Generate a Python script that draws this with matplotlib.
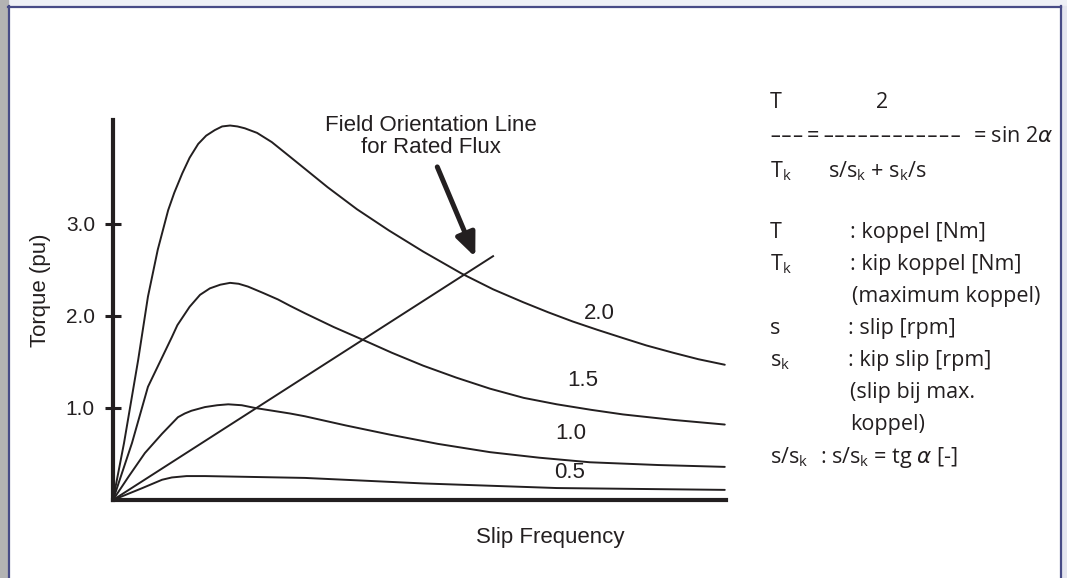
import numpy as np
import matplotlib
matplotlib.use("Agg")
import matplotlib.pyplot as plt
from matplotlib.patches import Rectangle
from matplotlib.lines import Line2D

# torque curves (pu) vs slip frequency, one per flux level
slip_20 = [0, 0.18, 0.41, 0.57, 0.73, 0.90, 1.00, 1.13, 1.25, 1.39, 1.52, 1.66, 1.78, 1.91, 2.03, 2.15, 2.35,
           2.59, 2.87, 3.13, 3.50, 3.98, 4.50, 5.06, 5.69, 6.20, 6.69, 7.10, 7.50, 7.90, 8.32, 8.70, 9.14,
           9.55, 9.98]
torque_20 = [0, 0.62, 1.52, 2.21, 2.72, 3.15, 3.34, 3.55, 3.72, 3.87, 3.96, 4.02, 4.06, 4.07, 4.06, 4.04, 3.99,
             3.89, 3.74, 3.60, 3.40, 3.16, 2.93, 2.70, 2.46, 2.29, 2.15, 2.04, 1.94, 1.85, 1.76, 1.68, 1.60,
             1.53, 1.47]

slip_15 = [0, 0.31, 0.57, 0.96, 1.05, 1.25, 1.42, 1.58, 1.75, 1.91, 2.05, 2.20, 2.45, 2.69, 2.89, 3.13, 3.60,
           4.08, 4.55, 5.06, 5.60, 6.15, 6.70, 7.24, 7.80, 8.32, 9.15, 9.98]
torque_15 = [0, 0.62, 1.23, 1.77, 1.90, 2.10, 2.23, 2.30, 2.34, 2.36, 2.35, 2.32, 2.25, 2.18, 2.11, 2.03, 1.88,
             1.74, 1.60, 1.46, 1.33, 1.21, 1.11, 1.04, 0.98, 0.93, 0.87, 0.82]

slip_10 = [0, 0.25, 0.52, 0.80, 1.06, 1.17, 1.28, 1.50, 1.70, 1.88, 2.10, 2.32, 2.89, 3.13, 3.80, 4.52, 5.30,
           6.15, 6.95, 7.78, 8.90, 9.98]
torque_10 = [0, 0.25, 0.51, 0.72, 0.90, 0.94, 0.97, 1.01, 1.03, 1.04, 1.03, 1.00, 0.94, 0.91, 0.81, 0.71, 0.61,
             0.52, 0.46, 0.41, 0.38, 0.36]

slip_05 = [0, 0.48, 0.80, 0.96, 1.20, 1.50, 2.32, 3.13, 4.10, 5.06, 6.15, 7.24, 8.60, 9.98]
torque_05 = [0, 0.13, 0.22, 0.245, 0.26, 0.26, 0.25, 0.24, 0.21, 0.18, 0.155, 0.13, 0.12, 0.11]

curve_names = ["2.0", "1.5", "1.0", "0.5"]
label_x = [7.93, 7.67, 7.47, 7.44]
label_y = [2.03, 1.30, 0.72, 0.30]

field_slip = [0, 6.20]
field_torque = [0, 2.65]

yticks = [1.0, 2.0, 3.0]
ytick_labels = ["1.0", "2.0", "3.0"]

W, H = 1067, 578
ink = "#231f20"


def fx(x):
    return x / W


def fy(y):
    return 1 - y / H


fig = plt.figure(figsize=(W / 100, H / 100), dpi=100, facecolor="#eef0f6")

# frame around the picture
fig.add_artist(Rectangle((0, 0), fx(8), 1, transform=fig.transFigure, color="#b3b3b3", zorder=-3))
fig.add_artist(Rectangle((fx(1061), 0), 1 - fx(1061), fy(6), transform=fig.transFigure,
                         color="#e4e5ef", zorder=-3))
fig.add_artist(Rectangle((fx(9), 0), fx(1060) - fx(9), fy(7), transform=fig.transFigure,
                         color="white", zorder=-2))
border = dict(transform=fig.transFigure, color="#474b86", lw=1.6, zorder=-1)
fig.add_artist(Line2D([fx(8.5), fx(8.5)], [0, fy(6)], **border))
fig.add_artist(Line2D([fx(8), fx(1061)], [fy(6.5), fy(6.5)], **border))
fig.add_artist(Line2D([fx(1060.5), fx(1060.5)], [0, fy(6)], **border))

ax = fig.add_axes([fx(113), fy(500), fx(726) - fx(113), fy(120) - fy(500)])
ax.set_facecolor("none")

for s, t in [(slip_20, torque_20), (slip_15, torque_15), (slip_10, torque_10), (slip_05, torque_05)]:
    ax.plot(s, t, color=ink, lw=1.4, solid_capstyle="round", solid_joinstyle="round")
ax.plot(field_slip, field_torque, color=ink, lw=1.4)

for name, x, y in zip(curve_names, label_x, label_y):
    ax.text(x, y, name, ha="center", va="center", fontsize=16, color=ink, family="Liberation Sans")

ax.text(5.19, 3.95, "Field Orientation Line\nfor Rated Flux", ha="center", va="center",
        fontsize=16, color=ink, family="Liberation Sans", linespacing=1.1)
ax.annotate("", xy=(5.91, 2.64), xytext=(5.29, 3.62),
            arrowprops=dict(arrowstyle="-|>,head_length=0.7,head_width=0.3", lw=3.6, color=ink,
                            mutation_scale=20, shrinkA=0, shrinkB=0))

ax.set_xlim(0, 10)
ax.set_ylim(0, 4.13)
ax.set_xticks([])
ax.set_yticks(yticks)
ax.set_yticklabels(ytick_labels, family="Liberation Sans", fontsize=15, color=ink)
ax.tick_params(axis="y", direction="inout", length=12, width=2.2, color=ink, pad=7)
for side in ["top", "right"]:
    ax.spines[side].set_visible(False)
for side in ["left", "bottom"]:
    ax.spines[side].set_linewidth(3)
    ax.spines[side].set_color(ink)

ax.set_xlabel("Slip Frequency", family="Liberation Sans", fontsize=16, color=ink, va="center")
ax.xaxis.set_label_coords(0.713, -0.1)
ax.set_ylabel("Torque (pu)", family="Liberation Sans", fontsize=16, color=ink, va="center")
ax.yaxis.set_label_coords(-0.119, 0.553)

# formula and legend text on the right
tfont = dict(family="Open Sans", fontsize=15.5, color=ink, va="baseline", ha="left")


def put(x, y, s, **kw):
    fig.text(fx(x), fy(y), s, **{**tfont, **kw})


put(770, 108, "T")
put(876, 108, "2")
put(769, 146, "---", fontsize=26, fontweight="light")
put(807, 142, "=")
put(822, 146, "------------", fontsize=26, fontweight="light")
put(973, 142, r"= sin 2$\alpha$")
put(770, 177, r"$\mathregular{T_k}$")
put(828, 177, r"$\mathregular{s/s_k}$ + $\mathregular{s_k/s}$")

put(770, 238, "T")
put(850, 238, ": koppel [Nm]")
put(770, 270, r"$\mathregular{T_k}$")
put(850, 270, ": kip koppel [Nm]")
put(852, 302, "(maximum koppel)")
put(770, 334, "s")
put(848, 334, ": slip [rpm]")
put(770, 366, r"$\mathregular{s_k}$")
put(848, 366, ": kip slip [rpm]")
put(850, 398, "(slip bij max.")
put(850, 430, "koppel)")
put(770, 463, r"$\mathregular{s/s_k}$")
put(820, 463, r": $\mathregular{s/s_k}$ = tg $\alpha$ [-]")

fig.savefig("out.png", dpi=100)
